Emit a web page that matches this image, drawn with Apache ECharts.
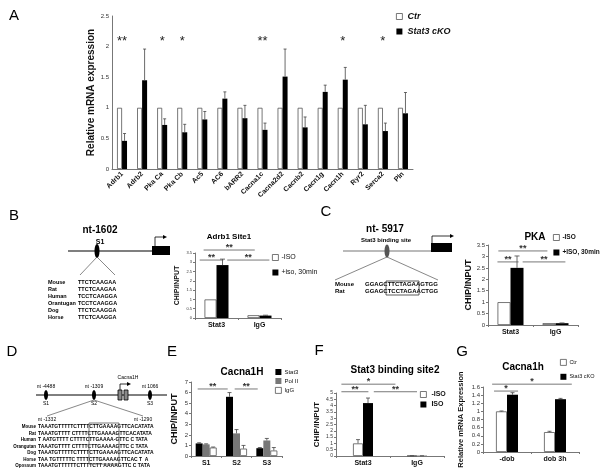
<!DOCTYPE html>
<html><head><meta charset="utf-8">
<script src="https://cdn.jsdelivr.net/npm/echarts@6/dist/echarts.min.js"></script>
<style>html,body{margin:0;padding:0;background:#fff}#c{width:602px;height:474px}</style>
</head><body><div id="c"></div>
<script>
// ---------- Panel A ----------
const aCats = ['Adrb1','Adrb2','Pka Ca','Pka Cb','Ac5','AC6','bARR2','Cacna1c','Cacna2d2','Cacnb2','Cacn1g','Cacn1h','Ryr2','Serca2','Pln'];
const aCtr = [1,1,1,1,1,1,1,1,1,1,1,1,1,1,1];
const aKO = [0.46,1.45,0.72,0.6,0.81,1.15,0.83,0.64,1.51,0.68,1.26,1.46,0.73,0.62,0.91];
const aKOErr = [0.58,1.96,0.82,0.73,0.94,1.26,1.04,0.75,1.96,0.85,1.37,1.66,1.04,0.75,1.25];
const aStars = ['**','','*','*','','','','**','','','','*','','*',''];
const aStarLevel = 2.08;
// ---------- Panel B ----------
const bCats = ['Stat3','IgG'];
const bMinus = [1.0, 0.15];
const bPlus = [2.85, 0.13];
const bPlusErr = [3.17, 0.15];
const bBrackets = [[-0.3,0.89,3.66,'**'],[-0.39,0.16,3.12,'**'],[0.25,1.23,3.12,'**']];
// ---------- Panel C ----------
const cCats = ['Stat3','IgG'];
const cMinus = [1.0, 0.08];
const cPlus = [2.5, 0.08];
const cPlusErr = [3.02, 0.09];
const cBrackets = [[-0.27,0.82,3.24,'**'],[-0.29,0.18,2.76,'**'],[0.27,1.22,2.76,'**']];
// ---------- Panel E ----------
const eCats = ['S1','S2','S3'];
const eStat3 = [1.19, 5.6, 0.74];
const eStat3Err = [1.25, 6.0, 0.8];
const ePol = [1.1, 2.14, 1.47];
const ePolErr = [1.15, 2.5, 1.66];
const eIgG = [0.8, 0.7, 0.52];
const eIgGErr = [0.85, 1.0, 0.8];
const eBrackets = [[-0.28,0.71,6.34,'**'],[0.94,1.7,6.34,'**']];
// ---------- Panel F ----------
const fCats = ['Stat3','IgG'];
const fMinus = [1.0, 0.02];
const fMinusErr = [1.3, 0.02];
const fPlus = [4.2, 0.02];
const fPlusErr = [4.6, 0.02];
const fBrackets = [[-0.4,0.6,5.7,'*'],[-0.4,0.1,5.1,'**'],[0.2,1.0,5.1,'**']];
// ---------- Panel G ----------
const gCats = ['-dob','dob 3h'];
const gCtr = [1.0, 0.49];
const gCtrErr = [1.01, 0.51];
const gKO = [1.41, 1.3];
const gKOErr = [1.46, 1.32];
const gBrackets = [[-0.31,1.35,1.67,'*'],[-0.27,0.23,1.5,'*']];

const FONT = '"Liberation Sans", Arial, sans-serif';
const chart = echarts.init(document.getElementById('c'));

const grids = [
  {left:112, top:16, width:301, height:153},
  {left:195, top:253, width:86, height:65},
  {left:488, top:245, width:90, height:80},
  {left:191, top:382, width:91, height:74},
  {left:336, top:393, width:108, height:63},
  {left:483, top:387, width:96, height:65}
];

function xAx(gi, data, fs, extra) {
  return Object.assign({type:'category', gridIndex:gi, data:data,
    axisLine:{lineStyle:{color:'#777', width:1}},
    axisTick:{show:gi!==0, length:2, lineStyle:{color:'#777'}},
    axisLabel:{fontFamily:FONT, fontWeight:'bold', fontSize:fs, color:'#111', margin:4, interval:0}}, extra||{});
}
function yAx(gi, max, interval, name, nfs, ngap, lfs) {
  return {type:'value', gridIndex:gi, min:0, max:max, interval:interval,
    splitLine:{show:false},
    axisLine:{show:true, lineStyle:{color:'#777', width:1}},
    axisTick:{show:gi!==0, length:2, lineStyle:{color:'#777'}},
    axisLabel:{fontFamily:FONT, fontSize:lfs||6, color:'#333', margin:3},
    name:name, nameLocation:'middle', nameRotate:90, nameGap:ngap,
    nameTextStyle:{fontFamily:FONT, fontWeight:'bold', fontSize:nfs, color:'#111'}};
}
const WHITE = {color:'#fff', borderColor:'#555', borderWidth:0.8};
const BLACK = {color:'#000'};
const GRAY = {color:'#777'};
function bar(gi, name, data, style, bw) {
  return {type:'bar', name:name, xAxisIndex:gi, yAxisIndex:gi, data:data, itemStyle:style,
    barWidth:bw, barGap:'0%', silent:true, animation:false};
}
function errS(gi, bottoms, tops, offset, cap) {
  return {type:'custom', xAxisIndex:gi, yAxisIndex:gi, silent:true, z:4, animation:false,
    data: tops.map((t,i)=>[i, bottoms[i], t]),
    renderItem(params, api) {
      const lo = api.coord([api.value(0), api.value(1)]);
      const hi = api.coord([api.value(0), api.value(2)]);
      const x = lo[0] + offset;
      return {type:'group', children:[
        {type:'line', shape:{x1:x,y1:lo[1],x2:x,y2:hi[1]}, style:{stroke:'#444', lineWidth:0.8}},
        {type:'line', shape:{x1:x-cap,y1:hi[1],x2:x+cap,y2:hi[1]}, style:{stroke:'#444', lineWidth:0.8}}
      ]};
    }};
}
function brS(gi, brackets, fs) {
  return {type:'custom', xAxisIndex:gi, yAxisIndex:gi, silent:true, z:5, animation:false,
    data: brackets.map(b=>[0, b[2]]),
    renderItem(params, api) {
      const b = brackets[params.dataIndex];
      const p0 = api.coord([0, b[2]]), p1 = api.coord([1, b[2]]);
      const d = p1[0]-p0[0];
      const xa = p0[0]+d*b[0], xb = p0[0]+d*b[1], y = p0[1];
      return {type:'group', children:[
        {type:'line', shape:{x1:xa,y1:y,x2:xb,y2:y}, style:{stroke:'#555', lineWidth:0.8}},
        {type:'text', style:{text:b[3], x:(xa+xb)/2, y:y+2, align:'center', textAlign:'center', verticalAlign:'bottom', textVerticalAlign:'bottom', font:'bold '+fs+'px '+FONT, fill:'#333'}}
      ]};
    }};
}
function starS(gi, stars, level) {
  return {type:'custom', xAxisIndex:gi, yAxisIndex:gi, silent:true, z:5, animation:false,
    data: stars.map((s,i)=>[i, level]),
    renderItem(params, api) {
      const p = api.coord([api.value(0), api.value(1)]);
      return {type:'text', style:{text:stars[params.dataIndex], x:p[0], y:p[1], align:'center', textAlign:'center', verticalAlign:'middle', textVerticalAlign:'middle', font:'13px '+FONT, fill:'#222'}};
    }};
}
function leg(left, top, names, styles, fs, gap, extra) {
  return Object.assign({left:left, top:top, orient:'vertical', itemWidth:6, itemHeight:6, itemGap:gap,
    selectedMode:false, padding:0,
    data: names.map((n,i)=>({name:n, icon:'rect', itemStyle:styles[i]})),
    textStyle:{fontFamily:FONT, fontSize:fs, color:'#111', padding:[0,0,0,-2]}}, extra||{});
}

// ---- graphic helpers (schematic diagrams) ----
const G = [];
function T(x, y, text, font, align, fill) {
  G.push({type:'text', x:x, y:y, silent:true, style:{text:text, font:font, fill:fill||'#000',
    align:align||'center', textAlign:align||'center', verticalAlign:'middle', textVerticalAlign:'middle'}});
}
function L(x1,y1,x2,y2,c,w) { G.push({type:'line', silent:true, shape:{x1,y1,x2,y2}, style:{stroke:c||'#000', lineWidth:w||1}}); }
function R(x,y,w,h,fill,stroke) { G.push({type:'rect', silent:true, shape:{x,y,width:w,height:h}, style:{fill:fill, stroke:stroke||null, lineWidth:0.8}}); }
function E(cx,cy,rx,ry,fill) { G.push({type:'ellipse', silent:true, shape:{cx,cy,rx,ry}, style:{fill:fill}}); }
function Arrow(x,y1,y2,x2) {
  G.push({type:'polyline', silent:true, shape:{points:[[x,y1],[x,y2],[x2,y2]]}, style:{stroke:'#000', lineWidth:0.8, fill:null}});
  G.push({type:'polygon', silent:true, shape:{points:[[x2+3,y2],[x2-1,y2-2],[x2-1,y2+2]]}, style:{fill:'#000'}});
}
const LETTER = '15px ' + FONT;
T(14,16,'A',LETTER); T(14,216,'B',LETTER); T(326,212,'C',LETTER);
T(12,352,'D',LETTER); T(172,352,'E',LETTER); T(319,351,'F',LETTER); T(462,352,'G',LETTER);

// chart titles
T(229,237,'Adrb1 Site1','bold 8px '+FONT);
T(535,237,'PKA','bold 10px '+FONT);
T(242,372,'Cacna1H','bold 10px '+FONT);
T(395,370,'Stat3 binding site2','bold 10px '+FONT);
T(523,367,'Cacna1h','bold 10px '+FONT);

// Diagram B
T(100,230,'nt-1602','bold 10px '+FONT);
T(100,242,'S1','bold 7px '+FONT);
L(68,251,170,251,'#000',1.2);
E(97,251,2.5,7,'#000');
R(152,246,18,9,'#000');
Arrow(155,246,237,164);
L(97,257,80,275,'#555',0.7); L(97,257,115,275,'#555',0.7);
const bSpecies = ['Mouse','Rat','Human','Orantugan','Dog','Horse'];
const bSeqs = ['TTCTCAAGAA','TTCTCAAGAA','TCCTCAAGGA','TCCTCAAGGA','TTCTCAAGGA','TTCTCAAGGA'];
bSpecies.forEach((s,i)=>{ T(48,282+i*7,s,'bold 5.5px '+FONT,'left'); T(78,282+i*7,bSeqs[i],'bold 5.5px '+FONT,'left'); });

// Diagram C
T(385,229,'nt- 5917','bold 10px '+FONT);
T(386,240,'Stat3 binding site','bold 6px '+FONT);
L(343,251,452,251,'#777',1.2);
E(387,251,2.5,6.5,'#555');
R(431,243,21,9,'#000');
Arrow(432,243,236,451);
L(387,257,335,280,'#555',0.7); L(387,257,438,280,'#555',0.7);
T(335,284,'Mouse','bold 6px '+FONT,'left'); T(335,291,'Rat','bold 6px '+FONT,'left');
T(365,284,'GGAGCTTCTAGAAGTGG','bold 6px '+FONT,'left');
T(365,291,'GGAGCTCCTAGAACTGG','bold 6px '+FONT,'left');
R(386,281,33,14,null,'#333');

// Diagram D
L(36,395,167,395,'#000',1);
E(46,395,2,5,'#000'); E(94,395,2,5,'#000'); E(150,395,2,5,'#000');
R(118,390,4,10,'#888','#000'); R(124,390,4,10,'#888','#000');
Arrow(120,390,384,128);
T(128,378,'Cacna1H','5px '+FONT);
T(46,387,'nt -4488','5px '+FONT); T(94,387,'nt -1309','5px '+FONT); T(150,387,'nt 1066','5px '+FONT);
T(46,404,'S1','5px '+FONT); T(94,404,'S2','5px '+FONT); T(150,404,'S3','5px '+FONT);
L(94,400,47,416,'#555',0.7); L(94,400,143,416,'#555',0.7);
T(47,420,'nt -1332','5px '+FONT); T(143,420,'nt -1290','5px '+FONT);
const dSpecies = ['Mouse','Rat','Human','Orangutan','Dog','Horse','Opossum'];
const dSeqs = ['TAAATGTTTTTCTTTTCTTGAAAAGTTCACATATA','TAAATGTTTT CTTTTCTTGAAAAGTTCACATATA','T AATGTTTT CTTTTCTTGAAAA-GTTC C TATA','TAAATGTTTT CTTTTCTTGAAAAGTTC C TATA','TAAATGTTTTTCTTTTCTTGAAAAGTTCACATATA','TAA TGTTTTTC TTTTCTTGAAAAGTTCAC T  A','TAAATGTTTTTTCTTTTCTT AAAAGTTC C TATA'];
dSpecies.forEach((s,i)=>{ T(36,427+i*6.5,s,'bold 4.5px '+FONT,'right'); T(38,427+i*6.5,dSeqs[i],'bold 5px '+FONT,'left'); });
R(89,423,30,41,null,'#555');

const option = {
  animation:false,
  grid: grids,
  xAxis: [
    xAx(0, aCats, 7, {axisLabel:{fontFamily:FONT, fontWeight:'bold', fontSize:7, color:'#111', rotate:45, interval:0, margin:4}}),
    xAx(1, bCats, 7), xAx(2, cCats, 7), xAx(3, eCats, 7), xAx(4, fCats, 7), xAx(5, gCats, 7)
  ],
  yAxis: [
    yAx(0, 2.5, 0.5, 'Relative mRNA expression', 10, 16),
    yAx(1, 3.5, 0.5, 'CHIP/INPUT', 7, 14, 4),
    yAx(2, 3.5, 0.5, 'CHIP/INPUT', 9, 14),
    yAx(3, 7, 1, 'CHIP/INPUT', 9, 12),
    yAx(4, 5, 0.5, 'CHIP/INPUT', 8, 15, 5),
    yAx(5, 1.6, 0.2, 'Relative mRNA Expression', 7.5, 18)
  ],
  legend: [
    leg(396, 12, ['Ctr','Stat3 cKO'], [WHITE, BLACK], 9, 6, {textStyle:{fontFamily:FONT, fontSize:9, fontWeight:'bold', fontStyle:'italic', color:'#111'}}),
    leg(272, 254, ['-ISO','+iso, 30min'], [WHITE, BLACK], 7, 8),
    leg(553, 234, ['-ISO','+ISO, 30min'], [WHITE, BLACK], 6.5, 8, {textStyle:{fontFamily:FONT, fontSize:6.5, fontWeight:'bold', color:'#111', padding:[0,0,0,-2]}}),
    leg(275, 369, ['Stat3','Pol II','IgG'], [BLACK, GRAY, WHITE], 6, 3),
    leg(420, 391, ['-ISO','ISO'], [WHITE, BLACK], 7, 3, {textStyle:{fontFamily:FONT, fontSize:7, fontWeight:'bold', color:'#111'}}),
    leg(560, 359, ['Ctr','Stat3 cKO'], [WHITE, BLACK], 5.5, 8)
  ],
  graphic: {elements: G},
  series: [
    bar(0,'Ctr',aCtr,WHITE,5), bar(0,'Stat3 cKO',aKO,BLACK,5),
    errS(0, aKO, aKOErr, 2.5, 1.5), starS(0, aStars, aStarLevel),
    bar(1,'-ISO',bMinus,WHITE,12), bar(1,'+iso, 30min',bPlus,BLACK,12),
    errS(1, bPlus, bPlusErr, 6, 2.5), brS(1, bBrackets, 9),
    bar(2,'-ISO',cMinus,WHITE,13), bar(2,'+ISO, 30min',cPlus,BLACK,13),
    errS(2, cPlus, cPlusErr, 6.5, 2.5), brS(2, cBrackets, 9),
    bar(3,'Stat3',eStat3,BLACK,7), bar(3,'Pol II',ePol,GRAY,7), bar(3,'IgG',eIgG,WHITE,7),
    errS(3, eStat3, eStat3Err, -7, 2), errS(3, ePol, ePolErr, 0, 2), errS(3, eIgG, eIgGErr, 7, 2),
    brS(3, eBrackets, 9),
    bar(4,'-ISO',fMinus,WHITE,10), bar(4,'ISO',fPlus,BLACK,10),
    errS(4, fMinus, fMinusErr, -5, 2), errS(4, fPlus, fPlusErr, 5, 2), brS(4, fBrackets, 9),
    bar(5,'Ctr',gCtr,WHITE,11), bar(5,'Stat3 cKO',gKO,BLACK,11),
    errS(5, gCtr, gCtrErr, -5.5, 2), errS(5, gKO, gKOErr, 5.5, 2), brS(5, gBrackets, 9)
  ]
};
chart.setOption(option);
</script></body></html>
